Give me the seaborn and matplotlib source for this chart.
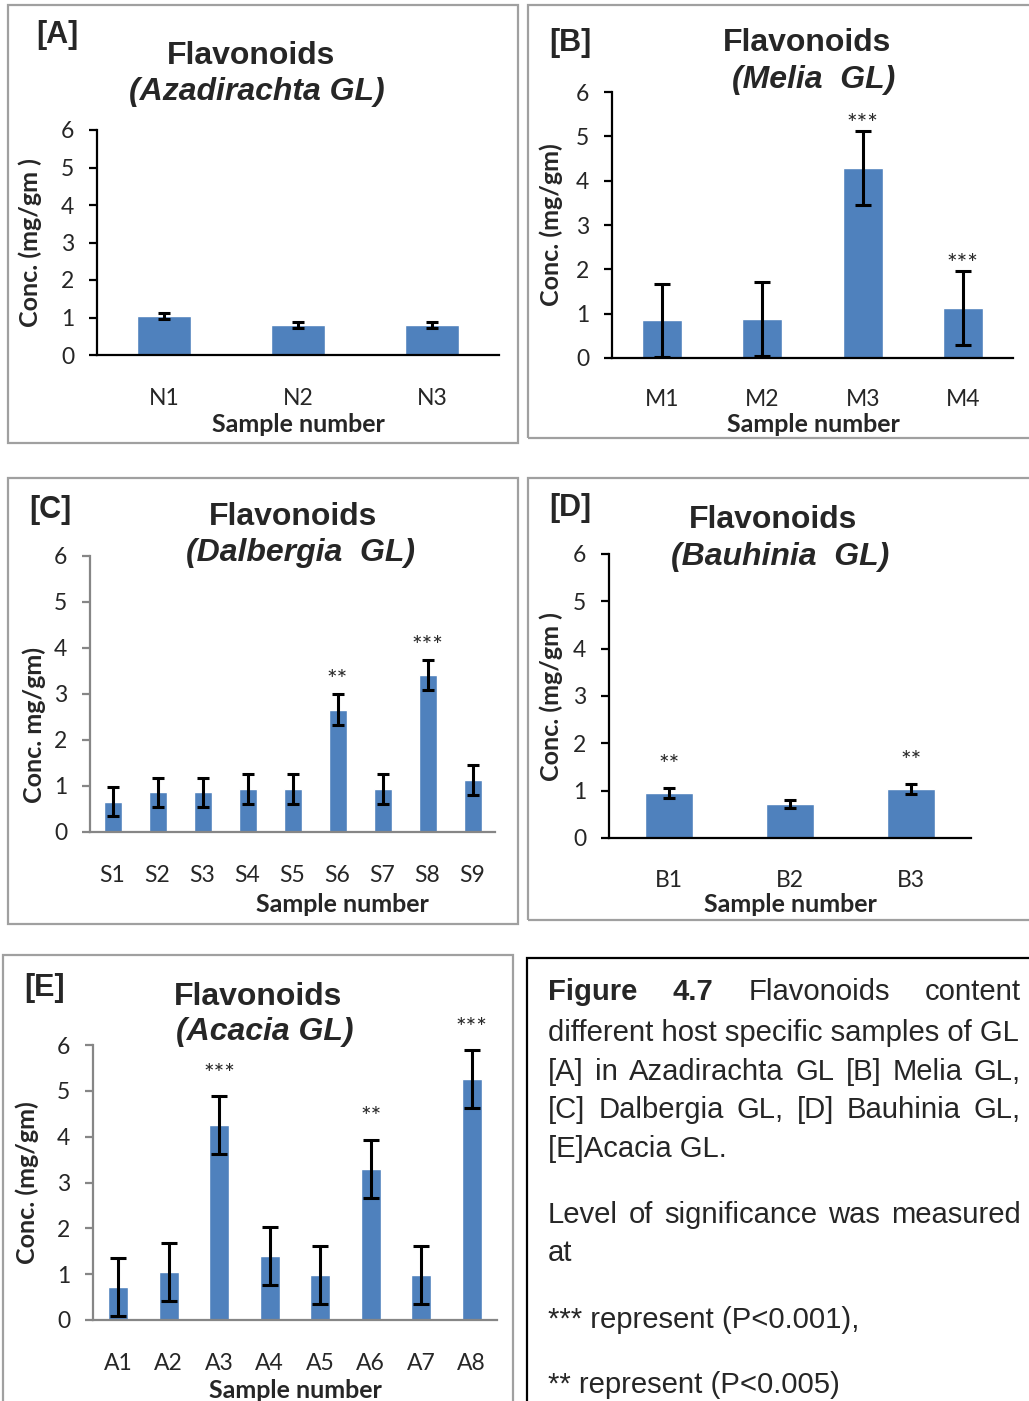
import matplotlib
matplotlib.use("Agg")
import matplotlib.pyplot as plt
import seaborn as sns
import pandas as pd
from matplotlib.patches import Rectangle

W, H = 1029, 1401

# ---- data ----
a_samples = ["N1", "N2", "N3"]
a_conc = [1.05, 0.80, 0.80]
a_err = [0.08, 0.08, 0.08]
a_stars = ["", "", ""]

b_samples = ["M1", "M2", "M3", "M4"]
b_conc = [0.85, 0.88, 4.29, 1.13]
b_err = [0.83, 0.83, 0.83, 0.83]
b_stars = ["", "", "***", "***"]

c_samples = ["S1", "S2", "S3", "S4", "S5", "S6", "S7", "S8", "S9"]
c_conc = [0.66, 0.86, 0.86, 0.93, 0.93, 2.66, 0.93, 3.41, 1.13]
c_err = [0.32, 0.32, 0.32, 0.33, 0.33, 0.33, 0.33, 0.32, 0.33]
c_stars = ["", "", "", "", "", "**", "", "***", ""]

d_samples = ["B1", "B2", "B3"]
d_conc = [0.95, 0.72, 1.04]
d_err = [0.10, 0.09, 0.10]
d_stars = ["**", "", "**"]

e_samples = ["A1", "A2", "A3", "A4", "A5", "A6", "A7", "A8"]
e_conc = [0.72, 1.05, 4.25, 1.40, 0.99, 3.30, 0.99, 5.26]
e_err = [0.63, 0.63, 0.63, 0.63, 0.63, 0.63, 0.63, 0.63]
e_stars = ["", "", "***", "", "", "**", "", "***"]

BAR = "#4F81BD"
CAL = "Lato"          # stand-in for Calibri
ARI = "Liberation Sans"

sns.set_style("white")
plt.rcParams["font.family"] = [CAL, "DejaVu Sans"]

fig = plt.figure(figsize=(W / 100, H / 100), dpi=100)


def fx(x):
    return x / W


def fy(y):
    return 1 - y / H


def frame(x0, y0, x1, y1, color):
    fig.patches.append(Rectangle((fx(x0), fy(y1)), (x1 - x0) / W, (y1 - y0) / H,
                                 transform=fig.transFigure, fill=False,
                                 edgecolor=color, lw=1.6))


def panel(box, samples, conc, err, stars, star_pad, spine, capsize,
          tag, tag_xy, species, title_xy, ylabel, ylab_xy, xlab_xy, xpad=24):
    l, t, r, b = box
    ax = fig.add_axes([fx(l), fy(b), (r - l) / W, (b - t) / H])
    df = pd.DataFrame({"sample": samples, "conc": conc})
    sns.barplot(data=df, x="sample", y="conc", color=BAR, saturation=1,
                width=0.4, errorbar=None, ax=ax)
    ax.errorbar(range(len(samples)), conc, yerr=err, fmt="none", ecolor="black",
                elinewidth=2.2, capsize=capsize, capthick=2.2)
    for i, s in enumerate(stars):
        if s:
            ax.text(i, conc[i] + err[i] + star_pad, s, ha="center", va="center",
                    fontsize=18, family=CAL)
    ax.set_xlim(-0.5, len(samples) - 0.5)
    ax.set_ylim(0, 6)
    ax.set_yticks(range(7))
    ax.set_xlabel("")
    ax.set_ylabel("")
    ax.set_facecolor("none")
    for side in ["top", "right"]:
        ax.spines[side].set_visible(False)
    for side in ["left", "bottom"]:
        ax.spines[side].set_color(spine)
        ax.spines[side].set_linewidth(1.6)
    ax.tick_params(axis="y", direction="out", length=5.5, width=1.6, color=spine,
                   pad=11, labelsize=16.5, left=True)
    ax.tick_params(axis="x", length=0, pad=xpad, labelsize=16.5)

    fig.text(fx(tag_xy[0]), fy(tag_xy[1]), tag, ha="center", va="center",
             fontsize=22, fontweight="bold", family=ARI)
    fig.text(fx(title_xy[0]), fy(title_xy[1]), "Flavonoids", ha="center",
             va="center", fontsize=23, fontweight="bold", family=ARI)
    fig.text(fx(title_xy[2]), fy(title_xy[3]), species, ha="center", va="center",
             fontsize=23, fontweight="bold", style="italic", family=ARI)
    fig.text(fx(ylab_xy[0]), fy(ylab_xy[1]), ylabel, ha="center", va="center",
             rotation=90, fontsize=18, fontweight="bold", family=CAL)
    fig.text(fx(xlab_xy[0]), fy(xlab_xy[1]), "Sample number", ha="center",
             va="center", fontsize=18, fontweight="bold", family=CAL)
    return ax


# panel frames
frame(8, 5, 518, 443, "#A0A0A0")
frame(528, 5, 1040, 438, "#A0A0A0")
frame(8, 478, 518, 924, "#A0A0A0")
frame(528, 478, 1040, 920, "#A0A0A0")
frame(3, 955, 513, 1420, "#A0A0A0")
frame(527, 958, 1040, 1420, "black")

panel((97, 130, 499, 355), a_samples, a_conc, a_err, a_stars, 0.3, "black", 4,
      "[A]", (57, 35), "(Azadirachta GL)", (251, 56, 257, 92),
      "Conc. (mg/gm )", (30, 243), (298, 424))
panel((612, 92, 1013, 358), b_samples, b_conc, b_err, b_stars, 0.15, "black", 6,
      "[B]", (570, 43), "(Melia  GL)", (807, 43, 814, 80),
      "Conc. (mg/gm)", (551, 225), (813, 425), xpad=22)
panel((90, 556, 495, 832), c_samples, c_conc, c_err, c_stars, 0.3, "#868686", 4,
      "[C]", (50, 510), "(Dalbergia  GL)", (293, 517, 300, 553),
      "Conc. mg/gm)", (34, 725), (342, 905))
panel((609, 554, 971, 838), d_samples, d_conc, d_err, d_stars, 0.48, "black", 4,
      "[D]", (570, 508), "(Bauhinia  GL)", (773, 520, 780, 557),
      "Conc. (mg/gm )", (551, 697), (790, 905), xpad=23)
panel((93, 1045, 497, 1320), e_samples, e_conc, e_err, e_stars, 0.48, "#868686", 6,
      "[E]", (45, 988), "(Acacia GL)", (258, 997, 265, 1032),
      "Conc. (mg/gm)", (27, 1183), (295, 1390))

# ---- caption box ----
caption = [
    ([("Figure", True), ("4.7", True), ("Flavonoids", False), ("content", False)], 1000, True),
    ([("different host specific samples of GL", False)], 1041, False),
    ([(w, False) for w in "[A] in Azadirachta GL [B] Melia GL,".split()], 1080, True),
    ([(w, False) for w in "[C] Dalbergia GL, [D] Bauhinia GL,".split()], 1118, True),
    ([("[E]Acacia GL.", False)], 1157, False),
    ([(w, False) for w in "Level of significance was measured".split()], 1223, True),
    ([("at", False)], 1261, False),
    ([("*** represent (P<0.001),", False)], 1328, False),
    ([("** represent (P<0.005)", False)], 1393, False),
]
x_left, x_right = 548, 1021
renderer = fig.canvas.get_renderer()
for words, base, justify in caption:
    objs = [fig.text(fx(x_left), fy(base), w, fontsize=21.1, family=ARI,
                     fontweight="bold" if bold else "normal", va="baseline", ha="left")
            for w, bold in words]
    if justify and len(objs) > 1:
        widths = [o.get_window_extent(renderer).width for o in objs]
        gap = (x_right - x_left - sum(widths)) / (len(objs) - 1)
        x = x_left
        for o, wd in zip(objs, widths):
            o.set_x(fx(x))
            x += wd + gap

fig.savefig("out.png", dpi=100)
